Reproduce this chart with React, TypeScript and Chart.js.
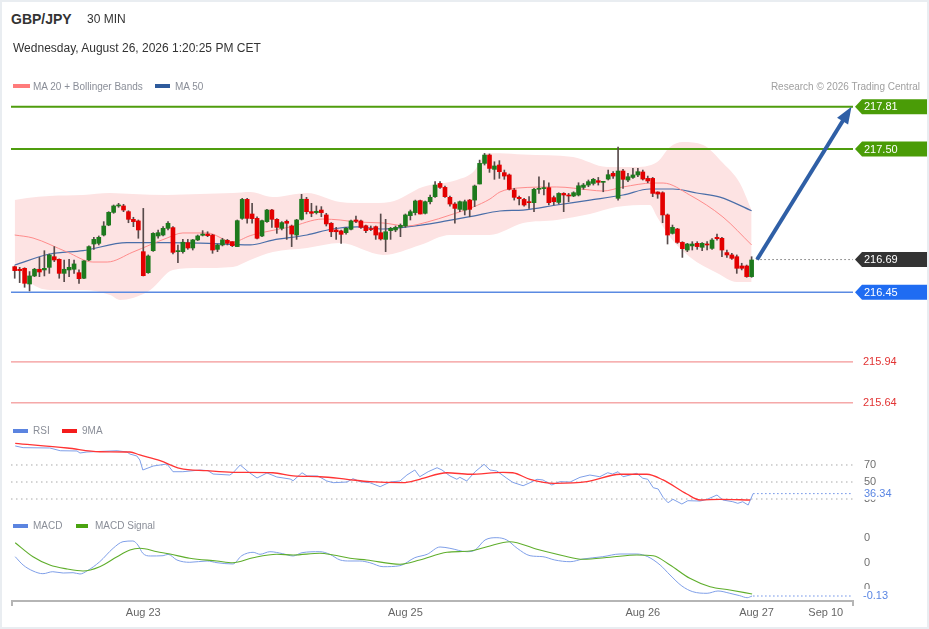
import React, { useEffect, useRef } from "react";
import { Chart, registerables } from "chart.js";

Chart.register(...registerables);

const FONT = '"Liberation Sans", Arial, Helvetica, sans-serif';

// ---------- 30-minute candles (GBP/JPY) ----------
const opens = [
  216.638, 216.619, 216.626, 216.511, 216.570, 216.619, 216.614, 216.633, 216.711, 216.692,
  216.589, 216.614, 216.619, 216.594, 216.553, 216.687, 216.804, 216.809, 216.870, 216.943,
  217.036, 217.083, 217.083, 217.041, 216.985, 216.973, 216.748, 216.594, 216.755, 216.863,
  216.870, 216.919, 216.924, 216.748, 216.748, 216.814, 216.775, 216.834, 216.868, 216.877,
  216.870, 216.765, 216.797, 216.831, 216.821, 216.785, 216.992, 217.131, 217.024, 216.992,
  216.863, 216.968, 217.053, 216.985, 216.919, 216.970, 216.936, 216.870, 216.985, 217.132,
  217.041, 217.034, 217.053, 217.017, 216.956, 216.907, 216.900, 216.887, 216.912, 216.980,
  216.973, 216.938, 216.917, 216.931, 216.887, 216.838, 216.902, 216.907, 216.926, 216.936,
  217.012, 217.034, 217.122, 217.029, 217.114, 217.151, 217.248, 217.219, 217.146, 217.097,
  217.058, 217.053, 217.126, 217.126, 217.244, 217.395, 217.456, 217.351, 217.383, 217.327,
  217.310, 217.200, 217.146, 217.131, 217.114, 217.107, 217.205, 217.210, 217.217, 217.144,
  217.109, 217.175, 217.163, 217.156, 217.163, 217.219, 217.236, 217.248, 217.268, 217.256,
  217.280, 217.322, 217.139, 217.339, 217.273, 217.292, 217.310, 217.332, 217.285, 217.285,
  217.185, 217.180, 217.017, 216.882, 216.914, 216.816, 216.760, 216.790, 216.809, 216.780,
  216.804, 216.772, 216.853, 216.846, 216.741, 216.724, 216.711, 216.643, 216.643, 216.565,
];
const highs = [
  216.643, 216.633, 216.630, 216.602, 216.626, 216.706, 216.755, 216.731, 216.785, 216.695,
  216.687, 216.692, 216.687, 216.614, 216.682, 216.790, 216.853, 216.863, 216.968, 217.041,
  217.090, 217.102, 217.095, 217.048, 217.000, 216.980, 217.065, 216.724, 216.887, 216.907,
  216.931, 216.968, 216.931, 216.797, 216.838, 216.838, 216.838, 216.870, 216.902, 216.894,
  216.875, 216.804, 216.846, 216.838, 216.821, 216.980, 217.139, 217.139, 217.102, 217.004,
  216.980, 217.058, 217.058, 216.990, 216.968, 216.980, 216.943, 216.985, 217.168, 217.146,
  217.102, 217.083, 217.078, 217.029, 216.961, 216.926, 216.907, 216.926, 216.980, 217.009,
  216.980, 216.943, 216.936, 216.936, 217.024, 216.985, 216.926, 216.936, 216.951, 217.024,
  217.053, 217.126, 217.126, 217.119, 217.163, 217.261, 217.261, 217.229, 217.156, 217.107,
  217.119, 217.126, 217.131, 217.236, 217.419, 217.468, 217.464, 217.407, 217.415, 217.346,
  217.317, 217.212, 217.156, 217.139, 217.151, 217.212, 217.297, 217.268, 217.253, 217.156,
  217.180, 217.180, 217.175, 217.187, 217.253, 217.248, 217.273, 217.285, 217.292, 217.261,
  217.346, 217.334, 217.515, 217.351, 217.322, 217.358, 217.358, 217.346, 217.302, 217.292,
  217.187, 217.187, 217.024, 216.943, 216.919, 216.821, 216.809, 216.821, 216.821, 216.814,
  216.821, 216.843, 216.877, 216.853, 216.760, 216.736, 216.724, 216.663, 216.650, 216.711,
];
const lows = [
  216.553, 216.521, 216.487, 216.460, 216.565, 216.565, 216.570, 216.589, 216.675, 216.553,
  216.528, 216.565, 216.589, 216.516, 216.550, 216.682, 216.765, 216.797, 216.863, 216.938,
  217.029, 217.073, 217.041, 216.960, 216.931, 216.846, 216.570, 216.589, 216.750, 216.846,
  216.863, 216.907, 216.731, 216.667, 216.736, 216.765, 216.760, 216.829, 216.863, 216.858,
  216.736, 216.748, 216.790, 216.797, 216.785, 216.785, 216.985, 216.956, 216.956, 216.841,
  216.858, 216.963, 216.926, 216.882, 216.907, 216.838, 216.785, 216.838, 216.980, 217.024,
  217.004, 217.024, 217.004, 216.936, 216.858, 216.838, 216.809, 216.877, 216.907, 216.961,
  216.919, 216.887, 216.902, 216.838, 216.833, 216.748, 216.838, 216.894, 216.858, 216.926,
  216.980, 217.017, 217.024, 217.024, 217.097, 217.146, 217.212, 217.146, 217.082, 216.956,
  217.041, 217.017, 217.004, 217.078, 217.244, 217.383, 217.329, 217.278, 217.285, 217.278,
  217.200, 217.126, 217.090, 217.082, 217.065, 217.041, 217.175, 217.163, 217.090, 217.090,
  217.097, 217.041, 217.114, 217.151, 217.156, 217.205, 217.224, 217.236, 217.236, 217.187,
  217.273, 217.285, 217.126, 217.212, 217.261, 217.285, 217.297, 217.273, 217.253, 217.151,
  217.139, 216.960, 216.804, 216.877, 216.809, 216.706, 216.748, 216.760, 216.765, 216.755,
  216.760, 216.765, 216.833, 216.711, 216.706, 216.692, 216.589, 216.614, 216.560, 216.560,
];
const closes = [
  216.609, 216.609, 216.516, 216.570, 216.619, 216.599, 216.626, 216.724, 216.687, 216.589,
  216.619, 216.633, 216.658, 216.550, 216.680, 216.785, 216.838, 216.853, 216.936, 217.036,
  217.083, 217.090, 217.053, 216.985, 216.968, 216.907, 216.572, 216.716, 216.882, 216.887,
  216.919, 216.956, 216.743, 216.755, 216.817, 216.775, 216.834, 216.863, 216.877, 216.865,
  216.760, 216.797, 216.834, 216.809, 216.792, 216.975, 217.131, 216.992, 216.990, 216.846,
  216.975, 217.053, 216.985, 216.926, 216.961, 216.956, 216.877, 216.980, 217.132, 217.041,
  217.029, 217.044, 217.034, 216.951, 216.894, 216.894, 216.875, 216.919, 216.973, 216.970,
  216.926, 216.902, 216.910, 216.870, 216.841, 216.894, 216.919, 216.926, 216.941, 217.017,
  217.041, 217.119, 217.024, 217.114, 217.146, 217.236, 217.219, 217.151, 217.097, 217.065,
  217.114, 217.114, 217.058, 217.229, 217.395, 217.456, 217.358, 217.376, 217.334, 217.302,
  217.205, 217.146, 217.136, 217.090, 217.107, 217.205, 217.210, 217.212, 217.107, 217.114,
  217.175, 217.163, 217.156, 217.180, 217.231, 217.236, 217.261, 217.278, 217.256, 217.258,
  217.312, 217.302, 217.339, 217.278, 217.297, 217.310, 217.334, 217.280, 217.266, 217.175,
  217.170, 217.017, 216.870, 216.926, 216.816, 216.770, 216.804, 216.804, 216.785, 216.809,
  216.797, 216.833, 216.843, 216.760, 216.724, 216.699, 216.626, 216.626, 216.565, 216.687,
];
const candleIdx = opens.map((_, i) => i);

// ---------- Overlays (candle index, value) ----------
const ma20X = [0, 3.7, 10.6, 15.8, 18.7, 23.9, 30.8, 34, 38.9, 44.1, 47.6, 49.6, 55.7, 62.3, 65.8, 69.2, 74.5, 79.3, 83.4, 88, 92.7, 96.1, 98.1, 101.6, 109.6, 116.3, 118.9, 123, 129.1, 131.1, 136.5, 143.2, 149];
const ma20Y = [216.870, 216.848, 216.745, 216.672, 216.672, 216.745, 216.848, 216.885, 216.885, 216.819, 216.865, 216.885, 216.929, 216.987, 216.980, 216.965, 216.958, 216.936, 216.965, 217.016, 217.075, 217.134, 217.185, 217.214, 217.222, 217.200, 217.192, 217.222, 217.251, 217.251, 217.163, 217.002, 216.797];

const ma50X = [0, 7.1, 13.8, 22.7, 30.8, 37.5, 47.6, 52.2, 59.1, 64.2, 69.2, 74.5, 79.3, 86, 92.7, 98.1, 102.8, 109.6, 116.3, 123, 128.4, 133.1, 137.9, 142.6, 149];
const ma50Y = [216.650, 216.731, 216.755, 216.814, 216.814, 216.811, 216.797, 216.833, 216.870, 216.914, 216.929, 216.914, 216.929, 216.965, 217.009, 217.046, 217.053, 217.090, 217.126, 217.163, 217.207, 217.207, 217.178, 217.148, 217.048];

const bbUpX = [0, 2.5, 7.1, 13.8, 19.3, 23.9, 30.8, 37.5, 44.1, 47.6, 52.2, 59.1, 65.8, 71.2, 75.9, 82.5, 89.4, 92.7, 95.5, 98.1, 102.8, 112.9, 119.8, 125, 129.9, 132.5, 135.1, 139.2, 143.2, 146.6, 149];
const bbUpY = [217.126, 217.141, 217.156, 217.163, 217.178, 217.170, 217.163, 217.170, 217.178, 217.185, 217.148, 217.178, 217.112, 217.104, 217.112, 217.222, 217.273, 217.331, 217.470, 217.470, 217.460, 217.441, 217.368, 217.368, 217.405, 217.515, 217.551, 217.529, 217.397, 217.251, 217.053];

const bbLoX = [0, 2.5, 7.1, 13.8, 19.3, 21.3, 23.9, 27.4, 32, 37.5, 44.1, 47.6, 52.2, 59.1, 65.8, 74.5, 82, 88, 96, 102.8, 109.6, 116.3, 121.6, 128.4, 129.9, 132.5, 136.5, 142, 146, 149];
const bbLoY = [216.665, 216.540, 216.467, 216.467, 216.430, 216.394, 216.408, 216.467, 216.614, 216.628, 216.636, 216.687, 216.745, 216.775, 216.811, 216.724, 216.797, 216.870, 216.870, 216.958, 216.980, 217.024, 217.075, 217.090, 217.002, 216.855, 216.709, 216.592, 216.526, 216.526];

// ---------- Levels ----------
const resistances = [217.81, 217.5];
const supports = [216.45];
const lowerLevels = [215.94, 215.64];
const lastPrice = 216.69;
const arrowFrom = { x: 150.1, y: 216.69 };
const arrowTo = { x: 169.2, y: 217.81 };

// ---------- RSI ----------
const rsiX = [0.1, 1.7, 7.1, 9.2, 12.6, 13.2, 14.6, 20.7, 22.7, 23.3, 24.7, 25.3, 25.9, 28, 30.8, 32, 34, 37.5, 39.1, 40.1, 43.5, 44.1, 45.6, 47.2, 49, 51, 53, 55.7, 56.3, 58.1, 59.1, 61.3, 63.1, 64.4, 67.2, 68.4, 69.8, 71.8, 73.9, 75.9, 77.9, 79.3, 80.9, 81.9, 83.6, 85.4, 86.4, 88, 89.4, 90, 91.4, 93.1, 94.9, 96.1, 97.5, 99.5, 100.7, 102.8, 104.2, 105.6, 106.8, 108.6, 110.2, 112.3, 114.3, 116.3, 118.3, 119.9, 120.9, 122, 123, 125.8, 127, 128, 129.1, 130.1, 131.1, 132.1, 133.1, 134.9, 136.1, 138.6, 140, 142, 143.2, 145.2, 146.2, 147.2, 148.3, 149.3];
const rsiY = [92.4, 90.4, 90.0, 86.8, 86.5, 84.1, 85.3, 86.8, 85.3, 82.9, 80.6, 75.9, 64.1, 68.8, 71.2, 62.1, 62.1, 64.1, 63.3, 59.4, 58.2, 60.6, 70.0, 62.1, 54.7, 60.6, 55.9, 53.5, 51.5, 60.9, 57.1, 57.1, 51.2, 49.2, 50.0, 53.9, 50.4, 49.2, 44.5, 50.0, 51.2, 58.2, 64.1, 56.2, 62.1, 66.8, 64.1, 57.1, 53.2, 55.5, 51.2, 62.1, 70.8, 64.1, 62.9, 54.4, 49.6, 45.6, 49.2, 53.2, 52.4, 46.5, 50.4, 50.0, 55.5, 58.2, 56.2, 60.9, 59.4, 62.1, 56.2, 60.2, 54.4, 53.2, 43.3, 41.8, 32.0, 25.6, 29.6, 24.1, 28.0, 27.6, 29.6, 34.7, 28.8, 26.8, 24.9, 26.8, 22.9, 36.34];
const rsiMaX = [0.1, 10.6, 17.2, 23.3, 25.3, 29.4, 33.4, 38.9, 44.1, 52.2, 56.3, 61.7, 67.2, 71.8, 78.5, 81.9, 87.4, 92, 98.7, 100.7, 104.2, 109.1, 115.7, 122.4, 127.8, 131.1, 135.9, 138.6, 142.6, 148.7];
const rsiMaY = [95.5, 90.0, 85.6, 85.3, 81.8, 75.1, 66.1, 63.3, 61.4, 60.9, 57.1, 56.2, 53.2, 50.4, 49.2, 53.2, 60.9, 59.1, 61.4, 60.9, 53.2, 48.5, 50.4, 59.1, 59.1, 52.4, 35.9, 28.8, 29.6, 28.8];
const rsiTicks = [70, 50, 30];
const rsiLast = 36.34;

// ---------- MACD ----------
const macdX = [0.1, 1.7, 3.7, 5.7, 7.7, 9.8, 11.8, 13.2, 14.6, 17.2, 19.9, 21.9, 23.9, 24.9, 25.9, 27.4, 30, 31, 32.8, 35.4, 38.9, 40.9, 44.1, 45.9, 48.2, 49.6, 51.6, 54.2, 56.3, 58.1, 61.7, 63.7, 65.8, 67.8, 69.8, 71.8, 74.5, 77.9, 80.9, 83.4, 86, 88, 91.4, 93.1, 95.1, 97.5, 99.5, 101.6, 104.2, 106.8, 109.2, 112.3, 114.9, 118.9, 122.4, 125.8, 128, 130.5, 132.5, 134.9, 137.1, 140, 142.2, 144.6, 146.6, 148.1, 149.1];
const macdY = [0.0248, -0.0079, -0.0315, -0.0421, -0.0343, -0.0394, -0.0382, -0.0433, -0.0315, 0.0051, 0.0579, 0.0839, 0.0866, 0.0709, 0.0382, 0.0276, 0.0287, 0.0343, 0.0118, 0.0028, 0.0079, 0.0012, -0.0039, 0.0287, 0.0421, 0.0343, 0.0445, 0.0366, 0.0276, 0.0406, 0.0445, 0.0343, 0.0118, 0.0079, 0.0079, 0.0012, -0.0146, -0.0106, 0.0209, 0.0343, 0.0630, 0.0579, 0.0445, 0.0512, 0.0906, 0.0996, 0.0906, 0.0579, 0.0287, 0.0248, 0.0118, 0.0051, 0.0157, 0.0248, 0.0354, 0.0354, 0.0248, -0.0079, -0.0472, -0.0906, -0.1130, -0.1193, -0.1102, -0.1193, -0.1287, -0.1366, -0.13];
const signalX = [0.1, 3.7, 7.1, 10.6, 13.8, 17.2, 20.7, 23.3, 25.3, 28.8, 31.4, 35.4, 40.9, 44.1, 48.2, 53, 56.3, 61.7, 64.4, 67.8, 71.2, 77.9, 81.9, 87.4, 92, 95.5, 100.1, 105.6, 110.9, 114.9, 120.4, 125.8, 129.1, 132.5, 136.5, 140.6, 144.6, 149.1];
const signalY = [0.0799, 0.0248, -0.0079, -0.0236, -0.0315, -0.0146, 0.0248, 0.0512, 0.0579, 0.0445, 0.0354, 0.0185, 0.0079, 0.0012, 0.0209, 0.0343, 0.0315, 0.0382, 0.0315, 0.0185, 0.0118, -0.0051, 0.0118, 0.0421, 0.0472, 0.0642, 0.0839, 0.0539, 0.0287, 0.0146, 0.0224, 0.0315, 0.0287, -0.0079, -0.0602, -0.0933, -0.1063, -0.1220];
const macdTicks = [0.1, 0, -0.1];
const macdLast = -0.13;

// ---------- Time axis ----------
const xTickIdx = [26, 79, 127, 150, 164];
const xTickLabels = ["Aug 23", "Aug 25", "Aug 26", "Aug 27", "Sep 10"];

// ---------- Axis ranges ----------
const X_MIN = -0.75;
const X_MAX = 169.5;
const PRICE_MIN = 215.551;
const PRICE_MAX = 217.896;
const RSI_MIN = 17.06;
const RSI_MAX = 99.41;
const MACD_MIN = -0.1457;
const MACD_MAX = 0.1299;

const UP = "#1d7a1d";
const DOWN = "#e30000";
const WICK = "#574a4a";
const GREEN_LVL = "#4f9d0e";
const BLUE_LVL = "#5a8ae2";
const RED_LVL = "#f07c7c";
const LINE_BLUE = "#7f9fe8";

const pts = (xs: number[], ys: number[]) => xs.map((x, i) => ({ x, y: ys[i] }));
const hline = (v: number, from = X_MIN) => [{ x: from, y: v }, { x: X_MAX, y: v }];

const PAD = { left: 11, right: 76 };

function baseOptions(yMin: number, yMax: number, top: number, bottom: number): any {
  return {
    responsive: false,
    animation: false,
    events: [],
    layout: { padding: { left: PAD.left, right: PAD.right, top, bottom } },
    plugins: { legend: { display: false }, tooltip: { enabled: false } },
    scales: {
      x: { type: "linear", min: X_MIN, max: X_MAX, display: false, offset: false, grid: { display: false } },
      y: { type: "linear", min: yMin, max: yMax, display: false, grid: { display: false } },
    },
  };
}

function lineDs(data: any[], color: string, width: number, extra: any = {}) {
  return {
    type: "line",
    data,
    borderColor: color,
    borderWidth: width,
    pointRadius: 0,
    fill: false,
    cubicInterpolationMode: "monotone",
    ...extra,
  };
}

function valueLabel(ctx: any, text: string, x: number, y: number, color: string, bg?: string) {
  ctx.font = `11px ${FONT}`;
  ctx.textBaseline = "middle";
  ctx.textAlign = "left";
  if (bg) {
    const w = ctx.measureText(text).width;
    ctx.fillStyle = bg;
    ctx.fillRect(x - 2, y - 7, w + 4, 13);
  }
  ctx.fillStyle = color;
  ctx.fillText(text, x, y);
}

const pricePlugin = {
  id: "priceDecor",
  afterDraw(chart: any) {
    const { ctx, chartArea: a, scales } = chart;
    const xs = scales.x;
    const ys = scales.y;
    ctx.save();
    // forecast arrow
    const x1 = xs.getPixelForValue(arrowFrom.x);
    const y1 = ys.getPixelForValue(arrowFrom.y);
    const x2 = xs.getPixelForValue(arrowTo.x);
    const y2 = ys.getPixelForValue(arrowTo.y);
    const ang = Math.atan2(y2 - y1, x2 - x1);
    const headLen = 17;
    const headW = 6.5;
    const bx = x2 - headLen * Math.cos(ang);
    const by = y2 - headLen * Math.sin(ang);
    ctx.strokeStyle = "#2f5fa6";
    ctx.fillStyle = "#2f5fa6";
    ctx.lineWidth = 4;
    ctx.lineCap = "butt";
    ctx.beginPath();
    ctx.moveTo(x1, y1);
    ctx.lineTo(bx + 2 * Math.cos(ang), by + 2 * Math.sin(ang));
    ctx.stroke();
    ctx.beginPath();
    ctx.moveTo(x2, y2);
    ctx.lineTo(bx + headW * Math.sin(ang), by - headW * Math.cos(ang));
    ctx.lineTo(bx - headW * Math.sin(ang), by + headW * Math.cos(ang));
    ctx.closePath();
    ctx.fill();

    // tags
    const tag = (v: number, color: string) => {
      const py = ys.getPixelForValue(v);
      const left = a.right + 2;
      const bodyL = a.right + 9;
      const right = 927;
      const h = 15;
      ctx.fillStyle = color;
      ctx.beginPath();
      ctx.moveTo(left, py);
      ctx.lineTo(bodyL, py - h / 2);
      ctx.lineTo(right, py - h / 2);
      ctx.lineTo(right, py + h / 2);
      ctx.lineTo(bodyL, py + h / 2);
      ctx.closePath();
      ctx.fill();
      valueLabel(ctx, v.toFixed(2), a.right + 11, py + 0.5, "#ffffff");
    };
    resistances.forEach((v) => tag(v, "#4a9c07"));
    tag(lastPrice, "#333333");
    supports.forEach((v) => tag(v, "#1f6cf2"));
    lowerLevels.forEach((v) => valueLabel(ctx, v.toFixed(2), a.right + 10, ys.getPixelForValue(v), "#e23434"));
    ctx.restore();
  },
};

const rsiPlugin = {
  id: "rsiDecor",
  afterDraw(chart: any) {
    const { ctx, chartArea: a, scales } = chart;
    ctx.save();
    rsiTicks.forEach((v) => valueLabel(ctx, String(v), a.right + 11, scales.y.getPixelForValue(v), "#707070"));
    valueLabel(ctx, rsiLast.toFixed(2), a.right + 11, scales.y.getPixelForValue(rsiLast), "#5a86e3", "#ffffff");
    ctx.restore();
  },
};

const macdPlugin = {
  id: "macdDecor",
  afterDraw(chart: any) {
    const { ctx, chartArea: a, scales } = chart;
    ctx.save();
    macdTicks.forEach((v) => valueLabel(ctx, String(Math.abs(Math.round(v))), a.right + 11, scales.y.getPixelForValue(v), "#707070"));
    valueLabel(ctx, macdLast.toFixed(2), a.right + 10, scales.y.getPixelForValue(macdLast), "#5a86e3", "#ffffff");
    // time axis
    ctx.strokeStyle = "#b5b5b5";
    ctx.lineWidth = 2;
    ctx.beginPath();
    ctx.moveTo(a.left, a.bottom + 1);
    ctx.lineTo(a.right + 1, a.bottom + 1);
    ctx.stroke();
    ctx.beginPath();
    ctx.moveTo(a.left + 1, a.bottom);
    ctx.lineTo(a.left + 1, a.bottom + 6);
    ctx.moveTo(a.right, a.bottom);
    ctx.lineTo(a.right, a.bottom + 6);
    ctx.stroke();
    ctx.font = `11px ${FONT}`;
    ctx.fillStyle = "#666666";
    ctx.textAlign = "center";
    ctx.textBaseline = "middle";
    xTickIdx.forEach((v, i) => ctx.fillText(xTickLabels[i], scales.x.getPixelForValue(v), a.bottom + 13));
    ctx.restore();
  },
};

function priceConfig(): any {
  const datasets: any[] = [
    lineDs(pts(bbUpX, bbUpY), "rgba(0,0,0,0)", 0, { fill: "+1", backgroundColor: "#fde3e3", order: 30 }),
    lineDs(pts(bbLoX, bbLoY), "rgba(0,0,0,0)", 0, { order: 29 }),
    ...resistances.map((v) => lineDs(hline(v), GREEN_LVL, 2, { order: 20, tension: 0 })),
    ...supports.map((v) => lineDs(hline(v), BLUE_LVL, 1.6, { order: 20, tension: 0 })),
    ...lowerLevels.map((v) => lineDs(hline(v), RED_LVL, 1, { order: 20, tension: 0 })),
    lineDs(hline(lastPrice, 150), "#333333", 1, { borderDash: [1, 3], order: 20 }),
    lineDs(pts(ma20X, ma20Y), "#ff8c8c", 1, { order: 10 }),
    lineDs(pts(ma50X, ma50Y), "#4a6ea8", 1.2, { order: 10 }),
    {
      type: "bar",
      data: candleIdx.map((i) => ({ x: i, y: [lows[i], highs[i]] })),
      backgroundColor: WICK,
      barThickness: 1,
      grouped: false,
      order: 3,
    },
    {
      type: "bar",
      data: candleIdx.map((i) => ({ x: i, y: [opens[i], closes[i]] })),
      backgroundColor: (c: any) => (closes[c.dataIndex] >= opens[c.dataIndex] ? UP : DOWN),
      barThickness: 4,
      minBarLength: 1,
      grouped: false,
      order: 2,
    },
  ];
  return {
    type: "bar",
    data: { datasets },
    options: baseOptions(PRICE_MIN, PRICE_MAX, 5, 5),
    plugins: [pricePlugin],
  };
}

function rsiConfig(): any {
  const datasets: any[] = [
    ...rsiTicks.map((v) => lineDs(hline(v), "#a8a8a8", 1, { borderDash: [1.5, 3.5], order: 20 })),
    lineDs(hline(rsiLast, 149.3), "#6b8fe6", 1, { borderDash: [1.5, 2.5], order: 20 }),
    lineDs(pts(rsiX, rsiY), LINE_BLUE, 1, { cubicInterpolationMode: "default", tension: 0, order: 5 }),
    lineDs(pts(rsiMaX, rsiMaY), "#ff3434", 1.3, { order: 4 }),
  ];
  return {
    type: "line",
    data: { datasets },
    options: baseOptions(RSI_MIN, RSI_MAX, 20, 10),
    plugins: [rsiPlugin],
  };
}

function macdConfig(): any {
  const datasets: any[] = [
    lineDs(hline(macdLast, 149.3), "#6b8fe6", 1, { borderDash: [1.5, 2.5], order: 20 }),
    lineDs(pts(macdX, macdY), LINE_BLUE, 1, { order: 5 }),
    lineDs(pts(signalX, signalY), "#5fae2c", 1.1, { order: 4 }),
  ];
  return {
    type: "line",
    data: { datasets },
    options: baseOptions(MACD_MIN, MACD_MAX, 10, 29),
    plugins: [macdPlugin],
  };
}

const legendText: React.CSSProperties = {
  position: "absolute",
  fontSize: 10,
  lineHeight: "14px",
  color: "#8a8e98",
  whiteSpace: "nowrap",
};

function Swatch({ left, top, width, color }: { left: number; top: number; width: number; color: string }) {
  return <div style={{ position: "absolute", left, top, width, height: 4.5, background: color }} />;
}

export default function App() {
  const priceRef = useRef<HTMLCanvasElement>(null);
  const rsiRef = useRef<HTMLCanvasElement>(null);
  const macdRef = useRef<HTMLCanvasElement>(null);

  useEffect(() => {
    const charts: Chart[] = [];
    if (priceRef.current) charts.push(new Chart(priceRef.current, priceConfig()));
    if (rsiRef.current) charts.push(new Chart(rsiRef.current, rsiConfig()));
    if (macdRef.current) charts.push(new Chart(macdRef.current, macdConfig()));
    return () => charts.forEach((c) => c.destroy());
  }, []);

  const canvasStyle = (top: number, height: number): React.CSSProperties => ({
    position: "absolute",
    left: 0,
    top,
    width: 929,
    height,
    display: "block",
  });

  return (
    <div
      style={{
        position: "fixed",
        left: 0,
        top: 0,
        width: 929,
        height: 629,
        background: "#ffffff",
        fontFamily: FONT,
        overflow: "hidden",
      }}
    >
      <canvas ref={priceRef} width={929} height={330} style={canvasStyle(90, 330)} />
      <canvas ref={rsiRef} width={929} height={100} style={canvasStyle(420, 100)} />
      <canvas ref={macdRef} width={929} height={109} style={canvasStyle(520, 109)} />

      <div style={{ position: "absolute", left: 11, top: 11, fontSize: 14, lineHeight: "16px", fontWeight: "bold", color: "#333" }}>
        GBP/JPY
      </div>
      <div style={{ position: "absolute", left: 87, top: 11, fontSize: 12, lineHeight: "16px", color: "#333" }}>30 MIN</div>
      <div style={{ position: "absolute", left: 13, top: 40, fontSize: 12, lineHeight: "16px", color: "#333", whiteSpace: "nowrap" }}>
        Wednesday, August 26, 2026 1:20:25 PM CET
      </div>

      <Swatch left={13} top={83.5} width={17} color="#ff7b7b" />
      <div style={{ ...legendText, left: 33, top: 79.5 }}>MA 20 + Bollinger Bands</div>
      <Swatch left={155} top={83.5} width={15} color="#2e5b9c" />
      <div style={{ ...legendText, left: 175, top: 79.5 }}>MA 50</div>
      <div style={{ ...legendText, right: 9, top: 79.5, color: "#a0a0a0" }}>Research © 2026 Trading Central</div>

      <Swatch left={13} top={428.5} width={15} color="#5b84e0" />
      <div style={{ ...legendText, left: 33, top: 424 }}>RSI</div>
      <Swatch left={62} top={428.5} width={15} color="#f41c1c" />
      <div style={{ ...legendText, left: 82, top: 424 }}>9MA</div>

      <Swatch left={13} top={523.5} width={15} color="#5b84e0" />
      <div style={{ ...legendText, left: 33, top: 519 }}>MACD</div>
      <Swatch left={76} top={523.5} width={12} color="#4aa310" />
      <div style={{ ...legendText, left: 95, top: 519 }}>MACD Signal</div>

      <div
        style={{
          position: "absolute",
          left: 0,
          top: 0,
          width: 929,
          height: 629,
          boxSizing: "border-box",
          border: "2px solid #e9edf1",
          pointerEvents: "none",
        }}
      />
    </div>
  );
}
